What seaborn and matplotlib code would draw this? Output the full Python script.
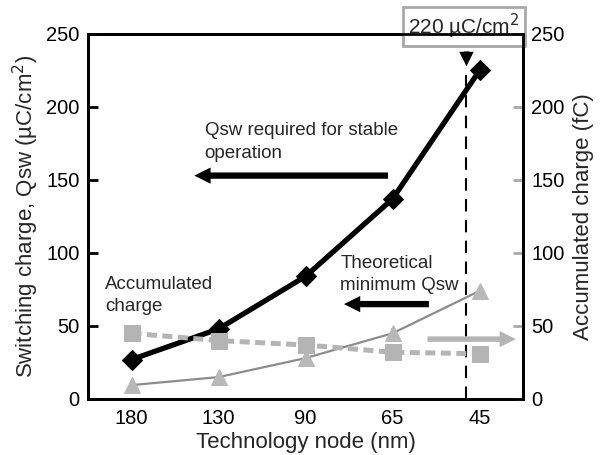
import matplotlib
matplotlib.use('Agg')
import matplotlib.pyplot as plt
import seaborn as sns
import pandas as pd

# data
nodes = ['180', '130', '90', '65', '45']
qsw_required = [27, 48, 84, 137, 225]
qsw_theoretical = [9.5, 15, 28, 45, 74]
accumulated_charge = [45, 40, 37, 32, 31]

df = pd.DataFrame({'node': nodes, 'required': qsw_required,
                   'theoretical': qsw_theoretical, 'accumulated': accumulated_charge})

sns.set_style('white')
plt.rcParams['font.family'] = ['Liberation Sans', 'DejaVu Sans']
plt.rcParams['font.size'] = 13

fig = plt.figure(figsize=(6, 4.55), dpi=100)
ax = fig.add_axes([0.1467, 0.1231, 0.725, 0.8022])
ax2 = ax.twinx()

sns.lineplot(data=df, x='node', y='theoretical', ax=ax, color='#8c8c8c', lw=1.6,
             marker='^', markersize=11, markerfacecolor='#b8b8b8', markeredgecolor='#b8b8b8',
             sort=False, zorder=2)
sns.lineplot(data=df, x='node', y='required', ax=ax, color='black', lw=3.8,
             marker='D', markersize=10, markerfacecolor='black', markeredgecolor='black',
             sort=False, zorder=4)
sns.lineplot(data=df, x='node', y='accumulated', ax=ax2, color='#b4b4b4', lw=3.6,
             linestyle=(0, (2, 1.1)), marker='s', markersize=12,
             markerfacecolor='#b4b4b4', markeredgecolor='#b4b4b4', sort=False, zorder=3)

for a in (ax, ax2):
    a.set_xlim(-0.5, 4.5)
    a.set_ylim(0, 250)
    a.set_yticks([0, 50, 100, 150, 200, 250])
    for s in a.spines.values():
        s.set_color('black')
        s.set_linewidth(2)

ax.tick_params(axis='both', direction='in', length=7, width=2, colors='black', labelsize=14.5)
ax.tick_params(axis='y', pad=6)
ax.tick_params(axis='x', pad=7)
ax2.tick_params(axis='y', direction='in', length=7, width=2, color='#a8a8a8',
                labelcolor='black', labelsize=14.5, pad=6)

ax.set_xlabel('Technology node (nm)', fontsize=16, labelpad=3)
ax.set_ylabel('Switching charge, Qsw (µC/cm$^2$)', fontsize=16, labelpad=4)
ax2.set_ylabel('Accumulated charge (fC)', fontsize=16, labelpad=6)

# dashed marker at the 220 uC/cm2 point
ax.plot([3.85, 3.85], [0, 222], color='black', lw=1.5, linestyle=(0, (6, 4)), zorder=1)

# callouts
ax.text(0.84, 176, 'Qsw required for stable\noperation', fontsize=13.5, va='center', ha='left',
        linespacing=1.4)
ax.annotate('', xy=(0.69, 153), xytext=(2.98, 153),
            arrowprops=dict(arrowstyle='simple,head_length=0.9,head_width=0.9,tail_width=0.35',
                            color='black', lw=0))
ax.text(2.4, 85, 'Theoretical\nminimum Qsw', fontsize=13.5, va='center', ha='left',
        linespacing=1.4)
ax.annotate('', xy=(2.41, 65), xytext=(3.45, 65),
            arrowprops=dict(arrowstyle='simple,head_length=0.9,head_width=0.9,tail_width=0.35',
                            color='black', lw=0))
ax.text(-0.3, 71, 'Accumulated\ncharge', fontsize=13.5, va='center', ha='left',
        linespacing=1.4)
ax.annotate('', xy=(4.45, 41), xytext=(3.37, 41),
            arrowprops=dict(arrowstyle='simple,head_length=0.9,head_width=0.9,tail_width=0.3',
                            color='#b4b4b4', lw=0))

ax.text(3.82, 255, '220 µC/cm$^2$', fontsize=15, ha='center', va='center', zorder=6,
        bbox=dict(boxstyle='square,pad=0.25', facecolor='white', edgecolor='#a8a8a8', lw=2),
        clip_on=False)
ax.annotate('', xy=(3.85, 226), xytext=(3.85, 240),
            arrowprops=dict(arrowstyle='simple,head_length=0.8,head_width=0.8,tail_width=0.3',
                            color='black', lw=0), annotation_clip=False)

fig.savefig('out.png', dpi=100)
